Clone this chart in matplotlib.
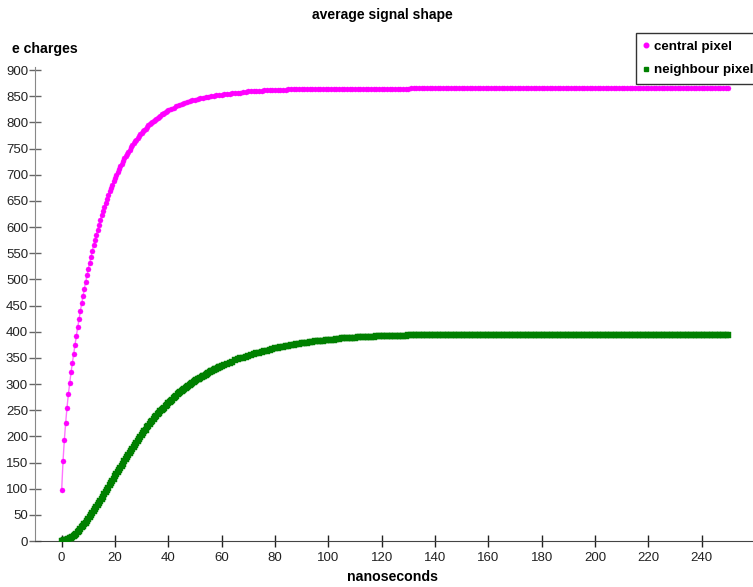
import matplotlib
matplotlib.use("Agg")
import matplotlib.pyplot as plt
from matplotlib.lines import Line2D
import numpy as np

# --- forma media de la señal (cargas en e) ---
# pixel central: paso de 0.5 ns hasta 40 ns, luego 1 ns
t_central = list(np.arange(0, 40.5, 0.5)) + list(range(41, 251))
q_central = [
    # 0 - 40 ns (0.5 ns)
    97, 152, 193, 226, 255, 280, 301, 322, 340, 358,
    375, 392, 408, 424, 439, 454, 468, 482, 495, 508,
    520, 532, 543, 554, 565, 575, 585, 595, 604, 613,
    622, 630, 638, 646, 654, 661, 668, 675, 681, 687,
    694, 699, 705, 711, 716, 721, 726, 731, 735, 740,
    744, 748, 752, 756, 760, 764, 767, 770, 774, 777,
    780, 783, 786, 788, 791, 794, 796, 798, 801, 803,
    805, 807, 809, 811, 813, 815, 816, 818, 820, 821,
    823,
    # 41 - 130 ns
    826, 828, 831, 833, 835, 837, 839, 840, 842, 843,
    844, 846, 847, 848, 849, 850, 851, 852, 852, 853,
    854, 855, 855, 856, 856, 857, 857, 858, 858, 859,
    859, 859, 860, 860, 860, 861, 861, 861, 861, 862,
    862, 862, 862, 862, 863, 863, 863, 863, 863, 863,
    863, 863, 863, 863, 863, 863, 864, 864, 864, 864,
    864, 864, 864, 864, 864, 864, 864, 864, 864, 864,
    864, 864, 864, 864, 864, 864, 864, 864, 864, 864,
    864, 864, 864, 864, 864, 864, 864, 864, 864, 864,
    # 131 - 250 ns
    865, 865, 865, 865, 865, 865, 865, 865, 865, 865,
    865, 865, 865, 865, 865, 865, 865, 865, 865, 865,
    865, 865, 865, 865, 865, 865, 865, 865, 865, 865,
    865, 865, 865, 865, 865, 865, 865, 865, 865, 865,
    865, 865, 865, 865, 865, 865, 865, 865, 865, 865,
    865, 865, 865, 865, 865, 865, 865, 865, 865, 865,
    865, 865, 865, 865, 865, 865, 865, 865, 865, 865,
    865, 865, 865, 865, 865, 865, 865, 865, 865, 865,
    865, 865, 865, 865, 865, 865, 865, 865, 865, 865,
    865, 865, 865, 865, 865, 865, 865, 865, 865, 865,
    865, 865, 865, 865, 865, 865, 865, 865, 865, 865,
    865, 865, 865, 865, 865, 865, 865, 865, 865, 865,
]

# pixel vecino: paso de 0.5 ns hasta 60 ns, luego 1 ns
t_vecino = list(np.arange(0, 60.5, 0.5)) + list(range(61, 251))
q_vecino = [
    # 0 - 60 ns (0.5 ns)
    0, 0, 1, 1, 2, 3, 5, 6, 8, 10,
    12, 14, 17, 20, 23, 26, 29, 32, 35, 38,
    42, 45, 49, 53, 57, 61, 65, 69, 73, 77,
    81, 85, 90, 94, 98, 102, 107, 111, 115, 119,
    124, 128, 132, 136, 140, 144, 148, 152, 156, 160,
    164, 168, 172, 176, 180, 184, 188, 191, 195, 199,
    203, 206, 210, 213, 217, 220, 224, 227, 230, 233,
    236, 239, 242, 245, 248, 250, 253, 255, 258, 260,
    263, 265, 268, 270, 273, 275, 278, 280, 282, 284,
    286, 288, 290, 292, 294, 296, 298, 300, 302, 303,
    305, 307, 309, 310, 312, 313, 315, 316, 318, 319,
    321, 322, 324, 325, 327, 328, 329, 330, 332, 333,
    334,
    # 61 - 69 ns
    337, 339, 341, 343, 345, 347, 349, 350, 352,
    # 70 - 149 ns
    354, 356, 357, 359, 360, 362, 363, 364, 365, 367,
    368, 369, 370, 371, 372, 373, 374, 375, 376, 377,
    378, 379, 379, 380, 381, 382, 382, 383, 383, 384,
    384, 385, 385, 386, 386, 387, 387, 387, 388, 388,
    388, 389, 389, 389, 390, 390, 390, 390, 391, 391,
    391, 391, 391, 392, 392, 392, 392, 392, 392, 392,
    393, 393, 393, 393, 393, 393, 393, 393, 393, 393,
    393, 393, 393, 393, 393, 393, 394, 394, 394, 394,
    # 150 - 250 ns
    394, 394, 394, 394, 394, 394, 394, 394, 394, 394,
    394, 394, 394, 394, 394, 394, 394, 394, 394, 394,
    394, 394, 394, 394, 394, 394, 394, 394, 394, 394,
    394, 394, 394, 394, 394, 394, 394, 394, 394, 394,
    394, 394, 394, 394, 394, 394, 394, 394, 394, 394,
    394, 394, 394, 394, 394, 394, 394, 394, 394, 394,
    394, 394, 394, 394, 394, 394, 394, 394, 394, 394,
    394, 394, 394, 394, 394, 394, 394, 394, 394, 394,
    394, 394, 394, 394, 394, 394, 394, 394, 394, 394,
    394, 394, 394, 394, 394, 394, 394, 394, 394, 394,
    394,
]

etiquetas = ["central pixel", "neighbour pixel"]
colores = ["#ff00ff", "#008000"]

plt.rcParams["font.family"] = ["Liberation Sans", "DejaVu Sans"]

fig = plt.figure(figsize=(7.53, 5.87), dpi=100)
ax = fig.add_axes([35 / 753, 46 / 587, 720 / 753, (541 - 67.4) / 587])

ax.plot(t_central, q_central, color=colores[0], lw=1.0, alpha=0.55, zorder=2)
ax.plot(t_central, q_central, ls="none", marker="o", ms=3.6, mec=colores[0], mfc=colores[0],
        mew=0.3, zorder=3, snap=False)
ax.plot(t_vecino, q_vecino, ls="none", marker="s", ms=4.2, mec=colores[1], mfc=colores[1],
        mew=0.3, zorder=3, snap=False)

ax.set_xlim(-10, 260)
ax.set_ylim(0, 905)
ax.set_xticks(np.arange(0, 241, 20))
ax.set_yticks(np.arange(0, 901, 50))

for lado in ["top", "right"]:
    ax.spines[lado].set_visible(False)
ax.spines["left"].set_color("#888888")
ax.spines["bottom"].set_color("#444444")
ax.tick_params(axis="both", direction="inout", length=8, width=1, labelsize=9.5,
               colors="#222222")
ax.tick_params(axis="y", color="#666666", pad=1)
ax.tick_params(axis="x", pad=4)

fig.text(382 / 753, 1 - 15 / 587, "average signal shape", ha="center", va="center",
         fontsize=10, fontweight="bold")
fig.text(12 / 753, 1 - 49 / 587, "e charges", ha="left", va="center",
         fontsize=10.2, fontweight="bold")
fig.text(393 / 753, 1 - 577 / 587, "nanoseconds", ha="center", va="center",
         fontsize=10.2, fontweight="bold")

manejadores = [
    Line2D([], [], ls="none", marker="o", ms=3.3, color=colores[0]),
    Line2D([], [], ls="none", marker="s", ms=3.2, color=colores[1]),
]
leg = fig.legend(manejadores, etiquetas, loc="upper left",
                 bbox_to_anchor=(636 / 753, 1 - 33 / 587),
                 frameon=True, fancybox=False, handlelength=0.4, handletextpad=0.4,
                 borderpad=0.55, labelspacing=0.85, borderaxespad=0,
                 prop={"weight": "bold", "size": 9.6})
leg.get_frame().set_edgecolor("black")
leg.get_frame().set_linewidth(1.0)
leg.set_zorder(5)

fig.savefig("out.png", dpi=100)
plt.close(fig)
